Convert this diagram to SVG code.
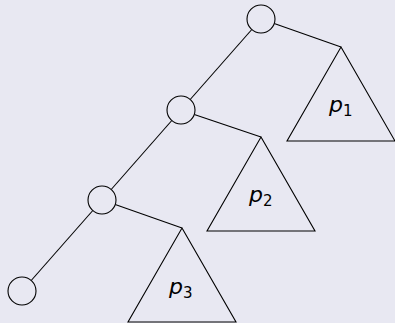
<svg xmlns="http://www.w3.org/2000/svg" width="395" height="323" viewBox="0 0 395 323">
<style>
.bg{fill:#e8e8f2}
.n{fill:#e8e8f2;stroke:#000;stroke-width:1.1}
.t{fill:none;stroke:#000;stroke-width:1.1;stroke-linejoin:miter}
.e{stroke:#000;stroke-width:1.1;fill:none}
.lbl{font-family:"DejaVu Sans",sans-serif;font-size:22px;fill:#000}
.p{font-style:italic}
.s{font-size:15px}
</style>
<rect class="bg" x="0" y="0" width="395" height="323"/>
<g id="connectors">
<line class="e" x1="251.8" y1="29.5" x2="190.2" y2="99.5"/>
<line class="e" x1="171.8" y1="120.5" x2="111.2" y2="189.5"/>
<line class="e" x1="92.8" y1="210.5" x2="31.2" y2="280.5"/>
<line class="e" x1="274.2" y1="23.6" x2="341" y2="47"/>
<line class="e" x1="194.3" y1="114.5" x2="261" y2="137"/>
<line class="e" x1="115.2" y1="204.6" x2="182" y2="228"/>
</g>
<g id="n1"><circle class="n" cx="261" cy="19" r="14"/></g>
<g id="n2"><circle class="n" cx="181" cy="110" r="14"/></g>
<g id="n3"><circle class="n" cx="102" cy="200" r="14"/></g>
<g id="n4"><circle class="n" cx="22" cy="291" r="14"/></g>
<g id="t1"><polygon class="t" points="341,47 395,141 287,141"/>
<text class="lbl" x="329" y="112"><tspan class="p">p</tspan><tspan class="s" dy="4">1</tspan></text></g>
<g id="t2"><polygon class="t" points="261,137 315,231 207,231"/>
<text class="lbl" x="249" y="202"><tspan class="p">p</tspan><tspan class="s" dy="4">2</tspan></text></g>
<g id="t3"><polygon class="t" points="182,228 236,322 128,322"/>
<text class="lbl" x="169" y="294"><tspan class="p">p</tspan><tspan class="s" dy="4">3</tspan></text></g>
</svg>
